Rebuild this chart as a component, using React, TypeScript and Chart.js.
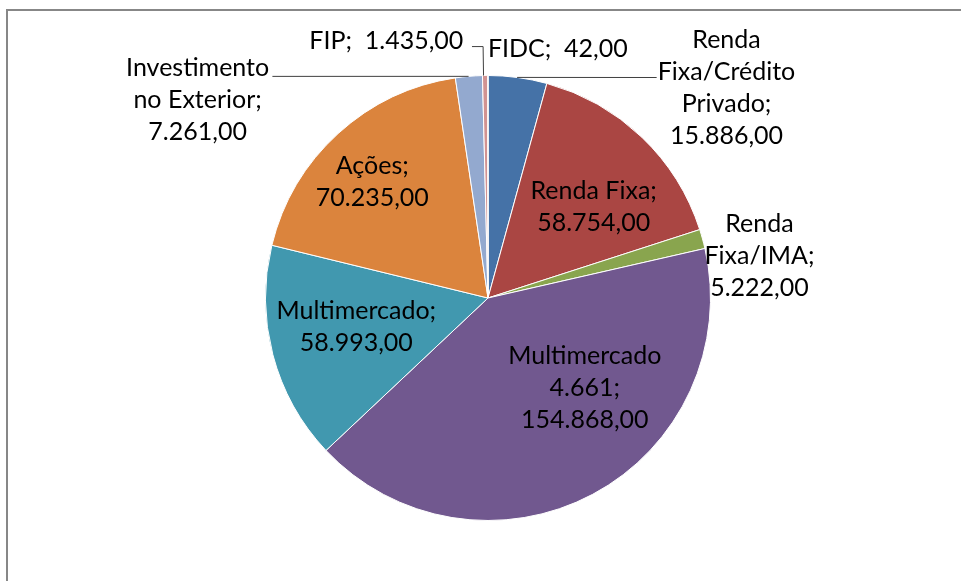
import React, { useEffect, useRef } from "react";
import { Chart, registerables } from "chart.js";

Chart.register(...registerables);

// ---- data ----
const categories = [
  "Renda Fixa/Crédito Privado",
  "Renda Fixa",
  "Renda Fixa/IMA",
  "Multimercado 4.661",
  "Multimercado",
  "Ações",
  "Investimento no Exterior",
  "FIP",
  "FIDC",
];
const values = [15886, 58754, 5222, 154868, 58993, 70235, 7261, 1435, 42];
const colors = [
  "#4572A7",
  "#AA4643",
  "#89A54E",
  "#71588F",
  "#4198AF",
  "#DB843D",
  "#93A9CF",
  "#D19392",
  "#A47D7C",
];
// how each label's category name is wrapped
const labelNameLines = [
  ["Renda", "Fixa/Crédito", "Privado;"],
  ["Renda Fixa;"],
  ["Renda", "Fixa/IMA;"],
  ["Multimercado", "4.661;"],
  ["Multimercado;"],
  ["Ações;"],
  ["Investimento", "no Exterior;"],
  ["FIP;"],
  ["FIDC;"],
];
const inlineValue = [false, false, false, false, false, false, false, true, true];

// ---- layout (relative to pie centre, in units of radius) ----
const labelOffsets: [number, number][] = [
  [1.072, -0.946],
  [0.475, -0.408],
  [1.22, -0.188],
  [0.435, 0.404],
  [-0.592, 0.13],
  [-0.52, -0.52],
  [-1.305, -0.888],
  [-0.457, -1.157],
  [0.314, -1.121],
];
// leader lines: slice index, fraction inside slice, then points
const leaders: { i: number; t: number; pts: [number, number][] }[] = [
  { i: 0, t: 0.49, pts: [[0.758, -0.991]] },
  { i: 6, t: 0.49, pts: [[-0.969, -0.996]] },
  { i: 7, t: 0.2, pts: [[-0.022, -1.13], [-0.072, -1.13]] },
];

const FONT = "25px Lato";
const LINE_H = 32;

function formatBR(v: number): string {
  const s = Math.round(v).toString();
  let out = "";
  for (let k = 0; k < s.length; k++) {
    const fromEnd = s.length - k;
    out += s[k];
    if (fromEnd > 1 && (fromEnd - 1) % 3 === 0) out += ".";
  }
  return out + ",00";
}

const framePlugin = {
  id: "frame",
  beforeDraw(chart: any) {
    const ctx = chart.ctx;
    ctx.save();
    ctx.fillStyle = "#ffffff";
    ctx.fillRect(0, 0, chart.width, chart.height);
    ctx.strokeStyle = "#878787";
    ctx.lineWidth = 2;
    ctx.strokeRect(7, 10, chart.width + 20, chart.height + 20);
    ctx.restore();
  },
};

const labelPlugin = {
  id: "pieLabels",
  afterDatasetsDraw(chart: any) {
    const meta = chart.getDatasetMeta(0);
    const arcs = meta.data;
    if (!arcs.length) return;
    const cx = arcs[0].x;
    const cy = arcs[0].y;
    const r = arcs[0].outerRadius;
    const ctx = chart.ctx;
    ctx.save();
    // leader lines
    ctx.strokeStyle = "#404040";
    ctx.lineWidth = 1;
    leaders.forEach((ld) => {
      const a = arcs[ld.i];
      const ang = a.startAngle + ld.t * (a.endAngle - a.startAngle);
      ctx.beginPath();
      ctx.moveTo(cx + r * Math.cos(ang), cy + r * Math.sin(ang));
      ld.pts.forEach(([px, py]) => ctx.lineTo(cx + px * r, cy + py * r));
      ctx.stroke();
    });
    // labels
    ctx.font = FONT;
    ctx.fillStyle = "#000000";
    ctx.textAlign = "center";
    ctx.textBaseline = "middle";
    categories.forEach((_, i) => {
      const val = formatBR(values[i]);
      let lines: string[];
      if (inlineValue[i]) {
        lines = [labelNameLines[i].join(" ") + "  " + val];
      } else {
        lines = [...labelNameLines[i], val];
      }
      const [dx, dy] = labelOffsets[i];
      const x = cx + dx * r;
      const y0 = cy + dy * r - ((lines.length - 1) * LINE_H) / 2;
      lines.forEach((ln, k) => ctx.fillText(ln, x, y0 + k * LINE_H));
    });
    ctx.restore();
  },
};

export default function App() {
  const ref = useRef<HTMLCanvasElement | null>(null);
  useEffect(() => {
    if (!ref.current) return;
    const chart = new Chart(ref.current, {
      type: "pie",
      data: {
        labels: categories,
        datasets: [
          {
            data: values,
            backgroundColor: colors,
            borderColor: "#ffffff",
            borderWidth: 1,
            hoverOffset: 0,
          },
        ],
      },
      options: {
        responsive: false,
        animation: false,
        devicePixelRatio: 1,
        layout: { padding: { left: 265, right: 250, top: 75, bottom: 60 } },
        plugins: {
          legend: { display: false },
          tooltip: { enabled: false },
        },
        events: [],
      },
      plugins: [framePlugin, labelPlugin],
    });
    return () => chart.destroy();
  }, []);
  return (
    <div style={{ position: "absolute", left: 0, top: 0, width: 961, height: 581, overflow: "hidden" }}>
      <canvas ref={ref} width={961} height={581} style={{ width: 961, height: 581, display: "block" }} />
    </div>
  );
}
